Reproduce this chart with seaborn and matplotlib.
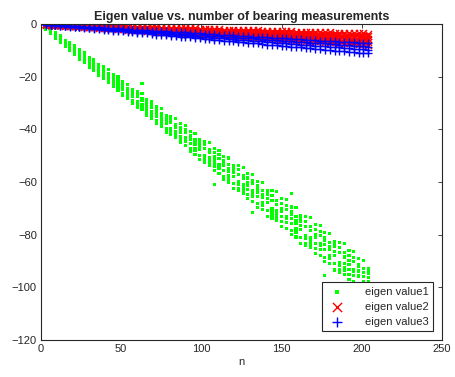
import matplotlib
matplotlib.use("Agg")
import matplotlib.pyplot as plt
import seaborn as sns
import pandas as pd

# number of bearing measurements at which eigen values were sampled
n_values = [3, 6, 9, 12, 15, 18, 21, 24, 27, 30, 33, 36, 39, 42, 45, 48, 51, 54,
            57, 60, 63, 66, 69, 72, 75, 78, 81, 84, 87, 90, 93, 96, 99, 102, 105,
            108, 111, 114, 117, 120, 123, 126, 129, 132, 135, 138, 141, 144, 147,
            150, 153, 156, 159, 162, 165, 168, 171, 174, 177, 180, 183, 186, 189,
            192, 195, 198, 201, 204]

eigen1 = [
    [-0.8, -1.6, -1.2, -2.1, -1.0, -1.9, -1.4],
    [-3.0, -2.3, -3.7, -2.5, -3.3, -1.9, -3.1],
    [-3.8, -5.1, -4.2, -4.6, -3.4, -5.4, -3.9],
    [-6.5, -5.5, -6.9, -4.4, -5.8, -5.1, -6.2],
    [-6.1, -7.3, -6.5, -8.1, -8.7, -6.9, -6.3],
    [-9.1, -7.1, -9.5, -8.2, -10.0, -7.6, -10.2],
    [-9.6, -10.8, -8.0, -11.2, -9.1, -10.4, -11.6],
    [-9.7, -12.0, -11.0, -13.3, -10.4, -12.7, -11.4],
    [-13.0, -11.5, -14.6, -12.0, -13.8, -10.7, -13.2],
    [-13.3, -15.9, -14.2, -14.9, -12.6, -16.5, -13.6],
    [-17.0, -15.3, -17.7, -13.5, -15.8, -14.7, -16.5],
    [-15.5, -17.5, -16.2, -18.7, -19.6, -16.9, -15.9],
    [-19.3, -16.3, -19.8, -17.9, -20.5, -17.1, -20.8],
    [-19.5, -21.1, -17.3, -21.6, -18.8, -20.5, -22.2],
    [-19.2, -22.2, -20.8, -23.9, -20.0, -23.1, -21.4],
    [-23.1, -21.1, -25.1, -21.8, -24.1, -20.0, -23.4],
    [-22.9, -26.3, -24.1, -25.0, -22.0, -27.1, -23.3],
    [-27.4, -25.2, -28.3, -22.9, -25.9, -24.5, -26.8],
    [-25.0, -27.6, -26.0, -29.2, -30.3, -26.8, -25.5],
    [-29.5, -25.7, -30.2, -27.7, -31.0, -26.7, -31.5],
    [-29.2, -31.3, -26.5, -31.9, -28.4, -30.6, -32.6, -22.5],
    [-28.6, -32.5, -30.7, -34.6, -29.7, -33.5, -31.4],
    [-33.2, -30.6, -35.7, -31.5, -34.4, -29.4, -33.5],
    [-32.5, -36.8, -34.0, -35.1, -31.4, -37.7, -33.1],
    [-37.7, -35.0, -38.8, -32.2, -35.8, -34.1, -36.9],
    [-34.6, -37.7, -35.7, -39.6, -41.0, -36.7, -35.2],
    [-39.7, -35.1, -40.5, -37.5, -41.5, -36.3, -42.1],
    [-39.1, -41.5, -35.8, -42.4, -38.1, -40.7, -43.2],
    [-37.9, -42.6, -40.5, -45.1, -39.2, -43.8, -41.3],
    [-43.2, -40.2, -46.2, -41.3, -44.7, -38.7, -43.7],
    [-42.2, -47.3, -44.0, -45.3, -40.9, -48.4, -42.9],
    [-48.1, -44.9, -49.4, -41.6, -45.8, -43.8, -47.2],
    [-44.0, -47.7, -45.4, -50.0, -51.6, -46.5, -44.7],
    [-49.9, -44.5, -50.9, -47.3, -52.0, -45.9, -52.7],
    [-48.9, -51.8, -45.1, -52.8, -47.7, -50.9, -53.7],
    [-47.4, -52.8, -50.3, -55.7, -48.9, -54.2, -51.3, -60.8],
    [-53.2, -49.7, -56.7, -51.0, -55.0, -48.0, -53.7],
    [-51.9, -57.8, -53.9, -55.5, -50.4, -59.1, -52.7],
    [-58.5, -54.8, -60.0, -50.9, -55.9, -53.5, -57.4],
    [-53.6, -57.8, -55.1, -60.5, -62.3, -56.5, -54.4],
    [-60.0, -53.8, -61.1, -57.1, -62.5, -55.4, -63.3],
    [-58.8, -62.1, -54.4, -63.2, -57.4, -61.0, -64.3],
    [-56.8, -63.0, -60.2, -66.3, -58.5, -64.7, -61.3],
    [-63.3, -59.3, -67.3, -60.7, -65.3, -57.3, -63.8, -71.5],
    [-61.5, -68.2, -63.8, -65.6, -59.8, -69.6, -62.4],
    [-68.9, -64.7, -70.6, -60.3, -65.9, -63.2, -67.7],
    [-63.1, -67.9, -64.9, -70.9, -73.0, -66.4, -64.0],
    [-70.2, -63.3, -71.4, -66.9, -72.9, -65.1, -73.8],
    [-68.6, -72.2, -63.7, -73.5, -67.1, -71.0, -74.7],
    [-66.4, -73.1, -70.1, -76.8, -68.3, -75.0, -71.3],
    [-73.3, -69.0, -77.7, -70.5, -75.5, -66.8, -73.9],
    [-71.3, -78.4, -73.8, -75.7, -69.5, -80.0, -72.2, -64.5],
    [-79.0, -74.6, -80.9, -69.8, -75.8, -73.0, -77.7],
    [-72.9, -78.0, -74.8, -81.1, -83.3, -76.4, -73.9],
    [-80.3, -73.0, -81.6, -76.8, -83.2, -74.9, -84.2],
    [-78.5, -82.4, -73.4, -83.6, -76.9, -81.1, -84.9],
    [-76.0, -83.2, -79.9, -87.1, -78.0, -85.1, -81.2],
    [-83.4, -78.8, -87.9, -80.4, -85.6, -76.5, -84.0],
    [-81.2, -88.7, -83.8, -85.7, -79.2, -90.3, -82.2, -95.4],
    [-89.1, -84.5, -91.0, -79.7, -85.8, -82.9, -87.8],
    [-82.7, -87.9, -84.6, -91.1, -93.4, -86.3, -83.7],
    [-90.4, -82.9, -91.7, -86.8, -93.3, -84.8, -94.3],
    [-88.5, -92.4, -83.3, -93.7, -86.9, -91.1, -95.0],
    [-86.0, -93.2, -89.9, -97.1, -88.0, -95.1, -91.2],
    [-93.3, -88.7, -97.8, -90.3, -95.5, -86.4, -93.9],
    [-91.2, -98.7, -93.8, -95.7, -89.2, -100.3, -92.2],
    [-99.1, -94.5, -101.0, -89.7, -95.8, -92.9, -97.8],
    [-92.7, -97.9, -94.6, -101.1, -103.4, -96.3, -93.7],
]

eigen2 = [
    [-0.1, 0.0, -0.1, -0.2, -0.1], [-0.1, -0.2, -0.2, -0.3, -0.2],
    [-0.2, -0.1, -0.3, -0.4, -0.3], [-0.2, -0.3, -0.4, -0.5, -0.3],
    [-0.3, -0.4, -0.5, -0.6, -0.4], [-0.4, -0.3, -0.6, -0.7, -0.5],
    [-0.4, -0.5, -0.6, -0.8, -0.7], [-0.5, -0.6, -0.7, -0.9, -0.8],
    [-0.5, -0.7, -0.8, -1.0, -0.9], [-0.6, -0.7, -0.9, -1.1, -1.0],
    [-0.6, -0.8, -0.9, -1.2, -1.1], [-0.7, -0.9, -1.0, -1.4, -1.2],
    [-0.7, -0.9, -1.1, -1.5, -1.3], [-0.8, -1.0, -1.2, -1.6, -1.4],
    [-0.8, -1.1, -1.3, -1.7, -1.5], [-0.9, -1.1, -1.4, -1.8, -1.6],
    [-0.9, -1.2, -1.4, -1.9, -1.7], [-1.0, -1.3, -1.5, -2.1, -1.8],
    [-1.0, -1.3, -1.6, -2.2, -1.9], [-1.1, -1.4, -1.7, -2.3, -2.0],
    [-1.1, -1.5, -1.8, -2.4, -2.1], [-1.2, -1.5, -1.8, -2.5, -2.2],
    [-1.2, -1.6, -1.9, -2.6, -2.3], [-1.3, -1.7, -2.0, -2.7, -2.4],
    [-1.4, -1.7, -2.1, -2.9, -2.5], [-1.4, -1.8, -2.2, -3.0, -2.6],
    [-1.5, -1.9, -2.3, -3.1, -2.7], [-1.5, -1.9, -2.4, -3.2, -2.8],
    [-1.6, -2.0, -2.4, -3.3, -2.9], [-1.6, -2.1, -2.5, -3.4, -3.0],
    [-1.7, -2.1, -2.6, -3.5, -3.1], [-1.7, -2.2, -2.7, -3.7, -3.2],
    [-1.8, -2.3, -2.8, -3.8, -3.3], [-1.8, -2.3, -2.9, -3.9, -3.4],
    [-1.9, -2.4, -2.9, -4.0, -3.5], [-1.9, -2.5, -3.0, -4.1, -3.6],
    [-2.0, -2.6, -3.1, -4.2, -3.7], [-2.1, -2.6, -3.2, -4.3, -3.8],
    [-2.1, -2.7, -3.3, -4.4, -3.9], [-2.2, -2.8, -3.4, -4.6, -4.0],
    [-2.2, -2.8, -3.4, -4.7, -4.1], [-2.3, -2.9, -3.5, -4.8, -4.2],
    [-2.3, -3.0, -3.6, -4.9, -4.3], [-2.4, -3.0, -3.7, -5.0, -4.4],
    [-2.4, -3.1, -3.8, -5.1, -4.5], [-2.5, -3.2, -3.9, -5.2, -4.6],
    [-2.5, -3.2, -3.9, -5.4, -4.7], [-2.6, -3.3, -4.0, -5.5, -4.8],
    [-2.6, -3.4, -4.1, -5.6, -4.9], [-2.7, -3.5, -4.2, -5.7, -5.0],
    [-2.8, -3.5, -4.3, -5.8, -5.1], [-2.8, -3.6, -4.4, -5.9, -5.2],
    [-2.9, -3.7, -4.5, -6.0, -5.3], [-2.9, -3.7, -4.5, -6.2, -5.4],
    [-3.0, -3.8, -4.6, -6.3, -5.5], [-3.0, -3.9, -4.7, -6.4, -5.5],
    [-3.1, -3.9, -4.8, -6.5, -5.6], [-3.1, -4.0, -4.9, -6.6, -5.7],
    [-3.2, -4.1, -5.0, -6.7, -5.8], [-3.2, -4.1, -5.0, -6.8, -5.9],
    [-3.3, -4.2, -5.1, -7.0, -6.0], [-3.4, -4.3, -5.2, -7.1, -6.1],
    [-3.4, -4.3, -5.3, -7.2, -6.2], [-3.5, -4.4, -5.4, -7.3, -6.3],
    [-3.5, -4.5, -5.5, -7.4, -6.4], [-3.6, -4.6, -5.5, -7.5, -6.5],
    [-3.6, -4.6, -5.6, -7.6, -6.6], [-3.7, -4.7, -5.7, -7.8, -6.7],
]

eigen3 = [
    [-0.1, -0.1, -0.1, -0.2], [-0.2, -0.3, -0.3, -0.3],
    [-0.3, -0.4, -0.4, -0.5], [-0.4, -0.5, -0.6, -0.7],
    [-0.5, -0.6, -0.7, -0.8], [-0.6, -0.8, -0.9, -1.0],
    [-0.8, -0.9, -1.0, -1.2], [-0.9, -1.0, -1.2, -1.3],
    [-1.0, -1.1, -1.3, -1.5], [-1.1, -1.3, -1.4, -1.7],
    [-1.2, -1.4, -1.6, -1.8], [-1.3, -1.5, -1.7, -2.0],
    [-1.4, -1.6, -1.9, -2.1], [-1.5, -1.8, -2.0, -2.3],
    [-1.6, -1.9, -2.2, -2.5], [-1.7, -2.0, -2.3, -2.6],
    [-1.8, -2.1, -2.4, -2.8], [-1.9, -2.3, -2.6, -3.0],
    [-2.1, -2.4, -2.7, -3.1], [-2.2, -2.5, -2.9, -3.3],
    [-2.3, -2.6, -3.0, -3.5], [-2.4, -2.8, -3.2, -3.6],
    [-2.5, -2.9, -3.3, -3.8], [-2.6, -3.0, -3.5, -4.0],
    [-2.7, -3.2, -3.6, -4.1], [-2.8, -3.3, -3.7, -4.3],
    [-2.9, -3.4, -3.9, -4.5], [-3.0, -3.5, -4.0, -4.6],
    [-3.1, -3.7, -4.2, -4.8], [-3.2, -3.8, -4.3, -5.0],
    [-3.3, -3.9, -4.5, -5.1], [-3.5, -4.0, -4.6, -5.3],
    [-3.6, -4.2, -4.8, -5.4], [-3.7, -4.3, -4.9, -5.6],
    [-3.8, -4.4, -5.0, -5.8], [-3.9, -4.5, -5.2, -5.9],
    [-4.0, -4.7, -5.3, -6.1], [-4.1, -4.8, -5.5, -6.3],
    [-4.2, -4.9, -5.6, -6.4], [-4.3, -5.0, -5.8, -6.6],
    [-4.4, -5.2, -5.9, -6.8], [-4.5, -5.3, -6.0, -6.9],
    [-4.6, -5.4, -6.2, -7.1], [-4.8, -5.5, -6.3, -7.3],
    [-4.9, -5.7, -6.5, -7.4], [-5.0, -5.8, -6.6, -7.6],
    [-5.1, -5.9, -6.8, -7.8], [-5.2, -6.0, -6.9, -7.9],
    [-5.3, -6.2, -7.1, -8.1], [-5.4, -6.3, -7.2, -8.3],
    [-5.5, -6.4, -7.3, -8.4], [-5.6, -6.6, -7.5, -8.6],
    [-5.7, -6.7, -7.6, -8.7], [-5.8, -6.8, -7.8, -8.9],
    [-5.9, -6.9, -7.9, -9.1], [-6.0, -7.1, -8.1, -9.2],
    [-6.2, -7.2, -8.2, -9.4], [-6.3, -7.3, -8.4, -9.6],
    [-6.4, -7.4, -8.5, -9.7], [-6.5, -7.6, -8.6, -9.9],
    [-6.6, -7.7, -8.8, -10.1], [-6.7, -7.8, -8.9, -10.2],
    [-6.8, -7.9, -9.1, -10.4], [-6.9, -8.1, -9.2, -10.6],
    [-7.0, -8.2, -9.4, -10.7], [-7.1, -8.3, -9.5, -10.9],
    [-7.2, -8.4, -9.6, -11.1], [-7.3, -8.6, -9.8, -11.2],
]

series_labels = ["eigen value1", "eigen value2", "eigen value3"]
x_ticks = [0, 50, 100, 150, 200, 250]
y_ticks = [-120, -100, -80, -60, -40, -20, 0]


def to_frame(rows):
    xs, ys = [], []
    for n, row in zip(n_values, rows):
        for v in row:
            xs.append(n)
            ys.append(v)
    return pd.DataFrame({"n": xs, "value": ys})


sns.set_theme(style="white")
plt.rcParams["font.family"] = ["Liberation Sans", "DejaVu Sans"]

fig = plt.figure(figsize=(4.56, 3.77), dpi=100)
ax = fig.add_axes([41 / 456, 37 / 377, 401 / 456, 316 / 377])

sns.scatterplot(data=to_frame(eigen1), x="n", y="value", ax=ax, marker="s",
                s=5, color="#00ff00", edgecolor="none", linewidth=0,
                label=series_labels[0])
sns.scatterplot(data=to_frame(eigen2), x="n", y="value", ax=ax, marker="x",
                s=26, color="#ff0000", linewidth=1.0, label=series_labels[1])
sns.scatterplot(data=to_frame(eigen3), x="n", y="value", ax=ax, marker="+",
                s=30, color="#0000ff", linewidth=1.0, label=series_labels[2])

ax.set_xlim(0, 250)
ax.set_ylim(-120, 0)
ax.set_xticks(x_ticks)
ax.set_yticks(y_ticks)
ax.tick_params(direction="in", length=3, width=0.6, top=True, right=True,
               labelsize=8, colors="#262626", pad=3)
for sp in ax.spines.values():
    sp.set_color("#262626")
    sp.set_linewidth(0.8)
ax.set_xlabel("n", fontsize=8, color="#262626", labelpad=2)
ax.set_ylabel("")
ax.set_title("Eigen value vs. number of bearing measurements",
             fontsize=9, fontweight="bold", pad=3)

leg = ax.legend(loc="lower right", fontsize=8, frameon=True, fancybox=False,
                edgecolor="#262626", borderaxespad=0.8, handletextpad=1.5,
                labelspacing=0.45, markerscale=1.3, framealpha=1)
leg.get_frame().set_linewidth(0.8)
leg.legend_handles[0].set_sizes([8])

fig.savefig("out.png", dpi=100)
